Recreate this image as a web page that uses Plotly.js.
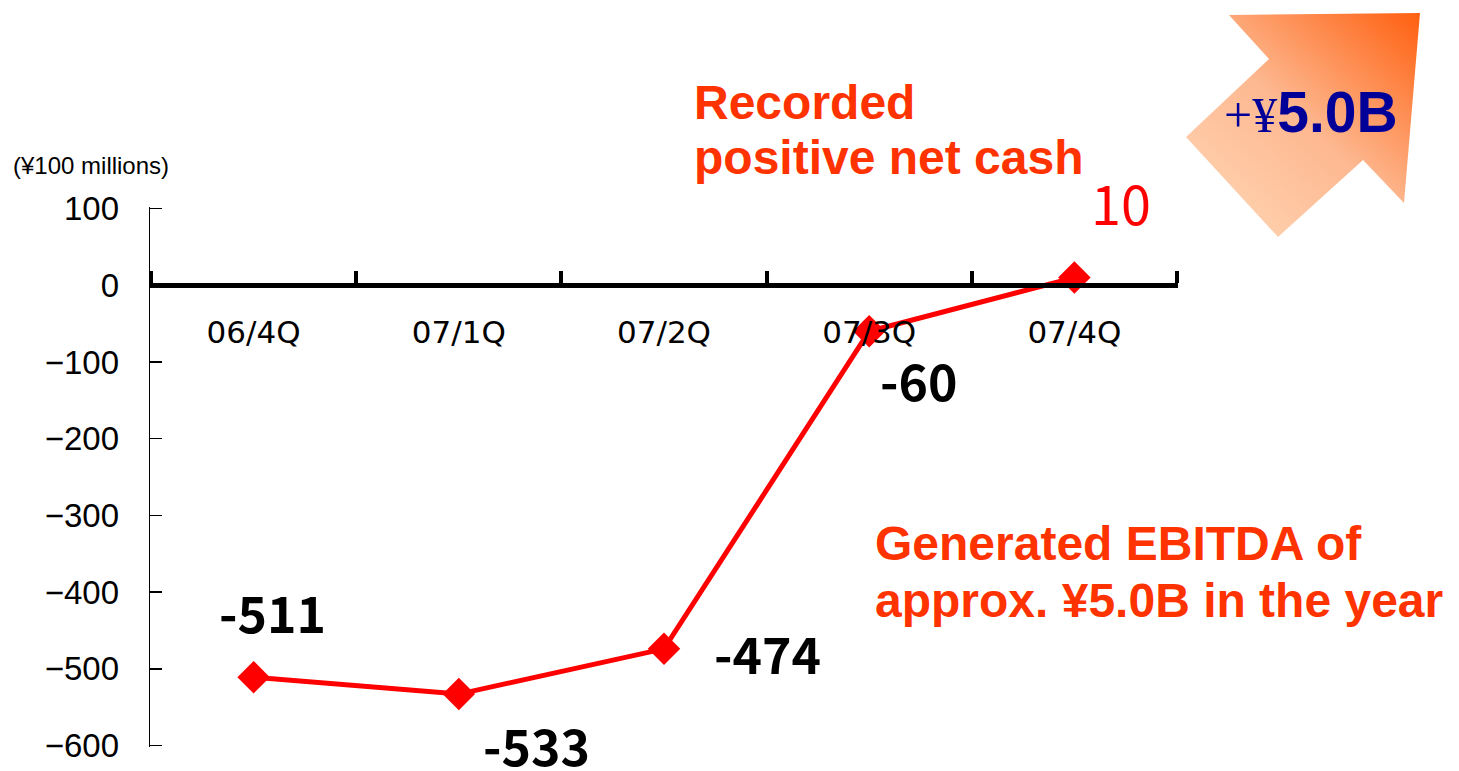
<!DOCTYPE html>
<html><head><meta charset="utf-8">
<script src="https://cdn.plot.ly/plotly-3.0.1.min.js"></script>
<style>html,body{margin:0;padding:0;background:#fff}#chart{width:1459px;height:771px}</style>
</head><body><div id="chart"></div>
<script>
const categories = ["06/4Q", "07/1Q", "07/2Q", "07/3Q", "07/4Q"];
const netCash = [-511, -533, -474, -60, 10];
const yTickVals = [-600, -500, -400, -300, -200, -100, 0, 100];
const unitLabel = "(¥100 millions)";
const noteTop = ["Recorded", "positive net cash"];
const noteBottom = ["Generated EBITDA of", "approx. ¥5.0B in the year"];
const arrowPrefix = "+¥";
const arrowValue = "5.0B";

// layout helpers (pixel -> paper)
const W = 1459, H = 771, L = 119, R = 281, T = 207, B = 24, AXIS_X = 150;
const PW = W - L - R, PH = H - T - B;
const px = x => (x - L) / PW;
const py = y => (H - B - y) / PH;

const labelShift = [[19, 66], [78, -50], [103, -3], [50, -48], [47, 76]];
const valueAnns = netCash.map((v, i) => ({
  xref: 'x', yref: 'y', x: categories[i], y: v, text: String(v), showarrow: false,
  xshift: labelShift[i][0], yshift: labelShift[i][1],
  font: v > 0 ? {family: '"Noto Sans CJK JP", sans-serif', size: 54, color: '#FF0000'}
              : {family: '"Noto Sans CJK JP", sans-serif', size: 50, color: '#000000', weight: 700}
}));

const orange = '#FF3300';
const boldFont = {family: 'Liberation Sans, Arial, sans-serif', size: 48, color: orange, weight: 700};
const textAnns = [
  {xref: 'paper', yref: 'paper', x: px(11), y: py(165), xanchor: 'left', yanchor: 'middle', text: unitLabel, showarrow: false,
   font: {family: 'Liberation Sans, Arial, sans-serif', size: 24, color: '#000'}},
  {xref: 'paper', yref: 'paper', x: px(692), y: py(103), xanchor: 'left', yanchor: 'middle', text: noteTop[0], showarrow: false, font: boldFont},
  {xref: 'paper', yref: 'paper', x: px(692), y: py(158), xanchor: 'left', yanchor: 'middle', text: noteTop[1], showarrow: false, font: boldFont},
  {xref: 'paper', yref: 'paper', x: px(873), y: py(543), xanchor: 'left', yanchor: 'middle', text: noteBottom[0], showarrow: false, font: boldFont},
  {xref: 'paper', yref: 'paper', x: px(873), y: py(600), xanchor: 'left', yanchor: 'middle', text: noteBottom[1], showarrow: false, font: boldFont},
  {xref: 'paper', yref: 'paper', x: px(1311), y: py(112), xanchor: 'center', yanchor: 'middle', showarrow: false,
   text: '<span style="font-family:Liberation Serif,Times New Roman,serif;font-size:50px">' + arrowPrefix + '</span>' +
         '<span style="font-family:Liberation Sans,Arial,sans-serif;font-weight:bold;font-size:57px">' + arrowValue + '</span>',
   font: {color: '#000099', size: 50}}
];

const arrowSvg = '<svg xmlns="http://www.w3.org/2000/svg" width="1459" height="771" viewBox="0 0 1459 771">' +
  '<defs><linearGradient id="g" x1="1230" y1="230" x2="1420" y2="15" gradientUnits="userSpaceOnUse">' +
  '<stop offset="0" stop-color="#FFD2B0"/><stop offset="0.45" stop-color="#FDB890"/><stop offset="1" stop-color="#FF6010"/></linearGradient></defs>' +
  '<polygon points="1229,15 1420,13 1404,203 1363,160 1278,237 1186,137 1269,59" fill="url(#g)"/></svg>';

const trace = {
  type: 'scatter', mode: 'lines+markers', x: categories, y: netCash,
  line: {color: '#FF0000', width: 5},
  marker: {symbol: 'diamond', size: 25, color: '#FF0000'},
  cliponaxis: false, hoverinfo: 'skip'
};
// invisible companion trace so the label-only y axis (y2) gets drawn
const labelAxisTrace = {
  type: 'scatter', mode: 'markers', x: categories, y: netCash, yaxis: 'y2',
  marker: {opacity: 0}, hoverinfo: 'skip', showlegend: false
};

const yRange = [-602, 102];
const layout = {
  width: W, height: H, margin: {l: L, r: R, t: T, b: B},
  paper_bgcolor: '#fff', plot_bgcolor: 'rgba(0,0,0,0)', showlegend: false,
  xaxis: {
    type: 'category', range: [-0.505, 4.505], domain: [px(AXIS_X), 1],
    anchor: 'free', position: (0 - yRange[0]) / (yRange[1] - yRange[0]),
    showline: true, linecolor: '#000', linewidth: 5, showgrid: false, zeroline: false,
    tickson: 'boundaries', ticks: 'inside', ticklen: 12, tickwidth: 4, tickcolor: '#000',
    ticklabelstandoff: 18,
    tickfont: {family: 'DejaVu Sans, sans-serif', size: 31, color: '#000'}
  },
  yaxis: {
    range: yRange, tickvals: yTickVals, showgrid: false, zeroline: false, anchor: 'x',
    showline: true, linecolor: '#000', linewidth: 1.5,
    ticks: 'inside', ticklen: 12, tickwidth: 1.5, tickcolor: '#000',
    showticklabels: false
  },
  yaxis2: {
    overlaying: 'y', side: 'left', anchor: 'free', position: 0, range: yRange, tickvals: yTickVals,
    showgrid: false, zeroline: false, showline: false, ticks: '',
    tickfont: {family: 'Liberation Sans, Arial, sans-serif', size: 33, color: '#000'}
  },
  images: [{source: 'data:image/svg+xml;charset=utf-8,' + encodeURIComponent(arrowSvg),
    xref: 'paper', yref: 'paper', x: px(0), y: py(0), sizex: W / PW, sizey: H / PH,
    xanchor: 'left', yanchor: 'top', sizing: 'stretch', layer: 'below'}],
  annotations: valueAnns.concat(textAnns)
};

Plotly.newPlot('chart', [labelAxisTrace, trace], layout, {displayModeBar: false, staticPlot: true});
</script></body></html>
